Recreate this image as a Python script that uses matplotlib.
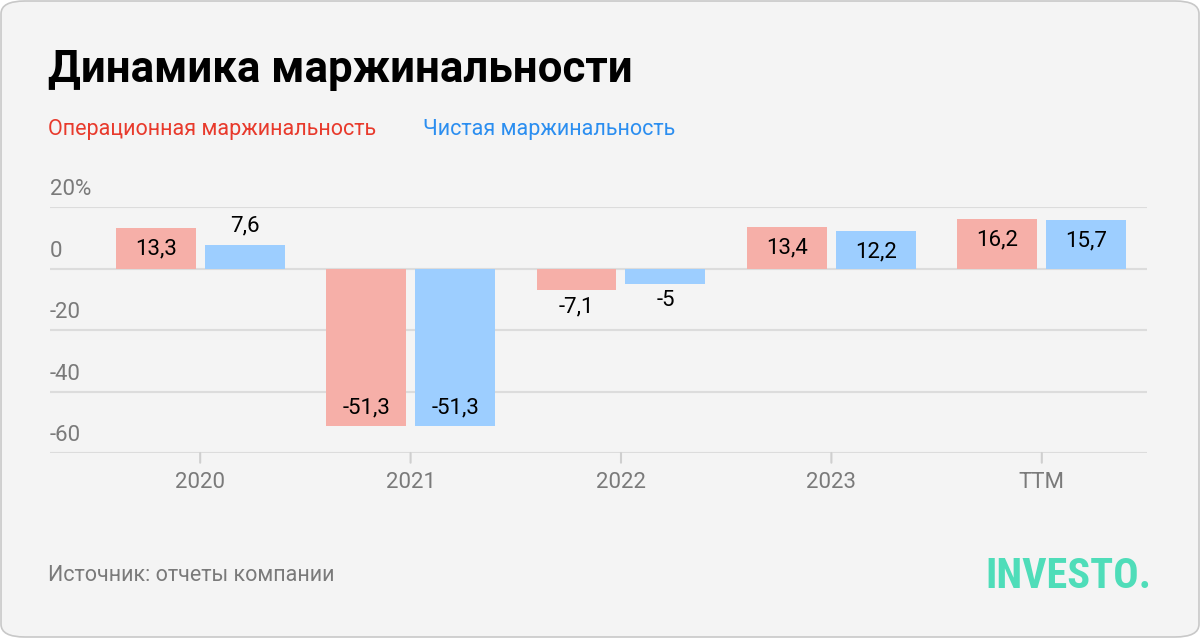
import matplotlib
matplotlib.use("Agg")
import matplotlib.pyplot as plt
from matplotlib import font_manager
from matplotlib.patches import FancyBboxPatch

# data
categories = ["2020", "2021", "2022", "2023", "TTM"]
op_margin = [13.3, -51.3, -7.1, 13.4, 16.2]
net_margin = [7.6, -51.3, -5.0, 12.2, 15.7]
y_ticks = [20, 0, -20, -40, -60]
y_tick_labels = ["20%", "0", "-20", "-40", "-60"]

red_bar = "#F6AFA8"
blue_bar = "#9DCEFF"
red_text = "#E83A2C"
blue_text = "#2B8EF0"
grey = "#7A7A7A"
bg = "#F4F4F4"

plt.rcParams["font.family"] = ["Roboto", "DejaVu Sans"]

W, H = 1200, 638
fig = plt.figure(figsize=(W / 100, H / 100), dpi=100)
fig.patch.set_facecolor("white")

# card background with rounded border
card = FancyBboxPatch((1 / W, 1 / H), 1 - 2 / W, 1 - 2 / H,
                      boxstyle="round,pad=0,rounding_size=0.02",
                      transform=fig.transFigure, facecolor=bg,
                      edgecolor="#C8C8C8", linewidth=1.2, zorder=-10)
fig.patches.append(card)

# axes placement in pixels
left_px, right_px, top_px, bottom_px = 50, 1147, 207, 453
ax = fig.add_axes([left_px / W, 1 - bottom_px / H,
                   (right_px - left_px) / W, (bottom_px - top_px) / H])
ax.set_facecolor("none")
for s in ax.spines.values():
    s.set_visible(False)

step = 210.5
ax.set_xlim(-0.5 - 45 / step, 4.5)
ax.set_ylim(-60, 20)
ax.set_xticks([])
ax.set_yticks([])

# gridlines
for t in y_ticks:
    ax.axhline(t, color="#DCDCDC", linewidth=1.5, zorder=0)

# y tick labels above the lines
for t, lab in zip(y_ticks, y_tick_labels):
    ax.annotate(lab, xy=(0, t), xycoords=("axes fraction", "data"),
                xytext=(0, 5), textcoords="offset points",
                ha="left", va="bottom", fontsize=16, color=grey)

x = list(range(len(categories)))
off = 0.2114
bw = 0.38
ax.bar([i - off for i in x], op_margin, width=bw, color=red_bar, zorder=2)
ax.bar([i + off for i in x], net_margin, width=bw, color=blue_bar, zorder=2)


def fmt(v):
    s = ("%.1f" % v).replace(".", ",")
    if s.endswith(",0"):
        s = s[:-2]
    return s


for vals, dx in ((op_margin, -off), (net_margin, off)):
    for i, v in enumerate(vals):
        if abs(v) > 10:
            # inside the bar, near its end
            dy = -21 if v > 0 else 18
        else:
            dy = 19 if v > 0 else -17
        ax.annotate(fmt(v), xy=(i + dx, v), xytext=(0, dy * 0.72),
                    textcoords="offset points", ha="center", va="center",
                    fontsize=16, color="black", zorder=3)

# x tick marks and labels
for i, c in enumerate(categories):
    ax.annotate("", xy=(i, -60), xytext=(0, -7), textcoords="offset points",
                arrowprops=dict(arrowstyle="-", color="#CFCFCF", lw=1.5,
                                shrinkA=0, shrinkB=0))
    ax.annotate(c, xy=(i, -60), xytext=(0, -21), textcoords="offset points",
                ha="center", va="center", fontsize=16, color=grey)

# header texts
fig.text(48 / W, 1 - 82 / H, "Динамика маржинальности", fontsize=31.6,
         fontweight="bold", color="black", va="baseline", ha="left")
fig.text(48 / W, 1 - 135 / H, "Операционная маржинальность", fontsize=15.5,
         color=red_text, va="baseline", ha="left")
fig.text(423 / W, 1 - 135 / H, "Чистая маржинальность", fontsize=15.5,
         color=blue_text, va="baseline", ha="left")

# footer
fig.text(48 / W, 1 - 581 / H, "Источник: отчеты компании", fontsize=15.5,
         color=grey, va="baseline", ha="left")

# logo: pick a narrow bold font if one exists, then fit its width
names = {f.name for f in font_manager.fontManager.ttflist}
logo_family = "Roboto"
for cand in ["Roboto Condensed", "Liberation Sans Narrow", "DejaVu Sans Condensed",
             "Open Sans Condensed"]:
    if cand in names:
        logo_family = cand
        break
logo = fig.text(1151 / W, 1 - 588 / H, "INVESTO.", fontsize=30, fontweight="bold",
                color="#4FDDB9", va="baseline", ha="right",
                family=[logo_family, "DejaVu Sans"])
fig.canvas.draw()
wpx = logo.get_window_extent().width
logo.set_fontsize(30 * 166 / wpx)

fig.savefig("out.png", dpi=100, facecolor=fig.get_facecolor())
